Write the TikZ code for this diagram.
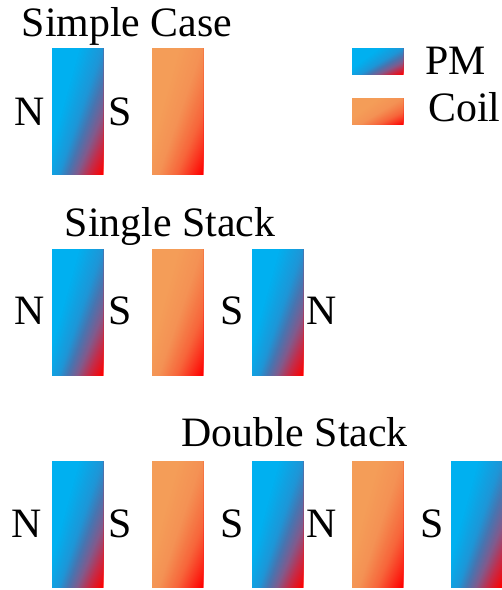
\documentclass[tikz,border=0pt]{standalone}
\usepackage{fontspec}
\setmainfont{Liberation Serif}
\definecolor{pma}{RGB}{0,176,240}
\definecolor{pmb}{RGB}{30,150,215}
\definecolor{pmc}{RGB}{70,118,178}
\definecolor{pmd}{RGB}{130,90,140}
\definecolor{pme}{RGB}{195,45,75}
\definecolor{pmf}{RGB}{255,0,0}
\definecolor{coa}{RGB}{244,157,88}
\definecolor{cob}{RGB}{244,145,84}
\definecolor{coc}{RGB}{245,125,72}
\definecolor{cod}{RGB}{247,100,58}
\definecolor{coe}{RGB}{250,58,35}
\definecolor{cof}{RGB}{255,0,0}
\tikzset{
  lbl/.style={font=\fontsize{42}{48}\selectfont, inner sep=0pt, anchor=base},
}
\newcommand{\mixc}[5]{\pgfmathsetmacro\gradt{(#1-#2)/(#3-#2)*100}\colorlet{cc}{#5!\gradt!#4}}
\newcommand{\pmcolor}[1]{%
  \ifdim #1pt<275pt \colorlet{cc}{pma}\else
  \ifdim #1pt<343pt \mixc{#1}{275}{343}{pma}{pmb}\else
  \ifdim #1pt<379pt \mixc{#1}{343}{379}{pmb}{pmc}\else
  \ifdim #1pt<424pt \mixc{#1}{379}{424}{pmc}{pmd}\else
  \ifdim #1pt<471pt \mixc{#1}{424}{471}{pmd}{pme}\else
  \ifdim #1pt<536pt \mixc{#1}{471}{536}{pme}{pmf}\else
  \colorlet{cc}{pmf}\fi\fi\fi\fi\fi\fi}
\newcommand{\coilcolor}[1]{%
  \ifdim #1pt<275pt \colorlet{cc}{coa}\else
  \ifdim #1pt<343pt \mixc{#1}{275}{343}{coa}{cob}\else
  \ifdim #1pt<379pt \mixc{#1}{343}{379}{cob}{coc}\else
  \ifdim #1pt<424pt \mixc{#1}{379}{424}{coc}{cod}\else
  \ifdim #1pt<471pt \mixc{#1}{424}{471}{cod}{coe}\else
  \ifdim #1pt<536pt \mixc{#1}{471}{536}{coe}{cof}\else
  \colorlet{cc}{cof}\fi\fi\fi\fi\fi\fi}
% #1 name, #2 colour macro, #3 x, #4 y, #5 w, #6 h
\newcommand{\gradbar}[6]{%
  \coordinate (#1) at (#3+#5/2,#4+#6/2);
  \begin{scope}
    \clip (#3,#4) rectangle ++(#5,#6);
    \begin{scope}[shift={(#3,#4)}, xscale=#5/51, yscale=#6/126]
      \foreach \s in {560,556,...,180}{\csname #2\endcsname{\s}%
        \fill[cc] (-69,350) -- (-249,-10) -- ({-69+0.36*\s},-10) -- cycle;}
    \end{scope}
  \end{scope}
}
\begin{document}
\begin{tikzpicture}[x=1bp,y=-1bp]
\useasboundingbox (0,0) rectangle (502,590);
% Simple case
\node[lbl] (t1) at (127,37) {Simple Case};
\gradbar{a1}{pmcolor}{52}{49}{51}{125}
\gradbar{a2}{coilcolor}{152}{49}{51}{125}
\node[lbl] (n1) at (29.5,126) {N};
\node[lbl] (s1) at (120,126) {S};
% legend
\gradbar{l1}{pmcolor}{352}{49}{51}{26}
\gradbar{l2}{coilcolor}{352}{99}{51}{26}
\node[lbl, anchor=base west] (lpm) at (425,75) {PM};
\node[lbl, anchor=base west] (lcoil) at (428,121.5) {Coil};
% Single stack
\node[lbl] (t2) at (170,236.5) {Single Stack};
\gradbar{b1}{pmcolor}{52}{249}{51}{126}
\gradbar{b2}{coilcolor}{152}{249}{51}{126}
\gradbar{b3}{pmcolor}{252}{249}{51}{126}
\node[lbl] (n2) at (29.5,324) {N};
\node[lbl] (s2) at (120,324) {S};
\node[lbl] (s3) at (232.5,324) {S};
\node[lbl] (n3) at (322,324) {N};
% Double stack
\node[lbl] (t3) at (294.5,446) {Double Stack};
\gradbar{c1}{pmcolor}{52}{461}{51}{126}
\gradbar{c2}{coilcolor}{152}{461}{51}{126}
\gradbar{c3}{pmcolor}{252}{461}{51}{126}
\gradbar{c4}{coilcolor}{352}{461}{51}{126}
\gradbar{c5}{pmcolor}{451}{461}{51}{126}
\node[lbl] (n4) at (27,537) {N};
\node[lbl] (s4) at (120,537) {S};
\node[lbl] (s5) at (232.5,537) {S};
\node[lbl] (n5) at (321.5,537) {N};
\node[lbl] (s6) at (432.5,537) {S};
\end{tikzpicture}
\end{document}
